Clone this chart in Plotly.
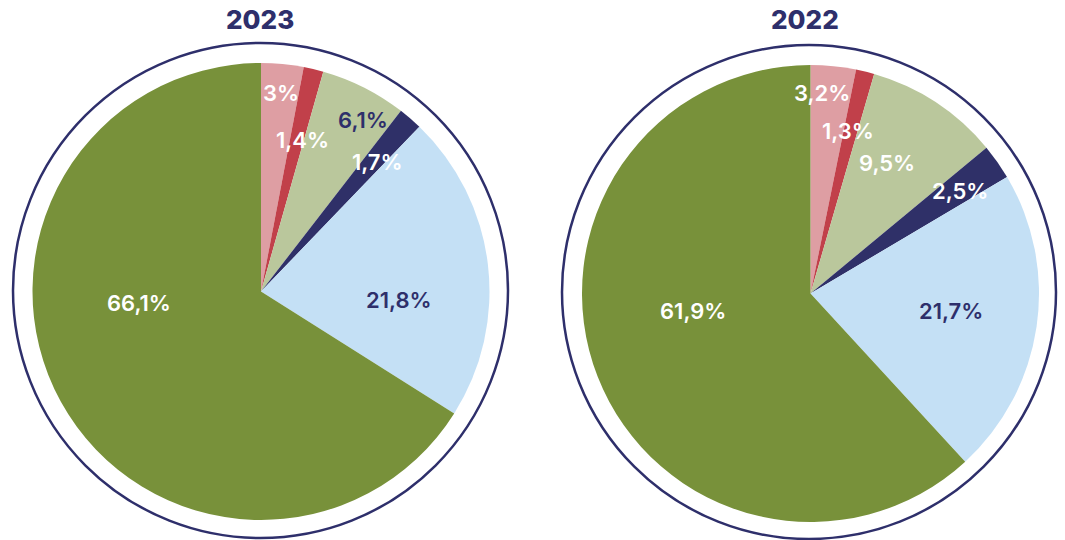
import plotly.graph_objects as go

# ---- data ----
categories = ["Cat A", "Cat B", "Cat C", "Cat D", "Cat E", "Cat F"]
values_2023 = [3.0, 1.4, 6.1, 1.7, 21.8, 66.1]
values_2022 = [3.2, 1.3, 9.5, 2.5, 21.7, 61.9]
labels_2023 = ["3%", "1,4%", "6,1%", "1,7%", "21,8%", "66,1%"]
labels_2022 = ["3,2%", "1,3%", "9,5%", "2,5%", "21,7%", "61,9%"]
years = ["2023", "2022"]

# ---- styles ----
colors = ["#DE9EA3", "#C1404A", "#BAC79C", "#2F3068", "#C4E0F5", "#78913A"]
navy = "#2E2F6B"
white = "#FFFFFF"
text_colors_2023 = [white, white, navy, white, navy, white]
text_colors_2022 = [white, white, white, white, navy, white]
FONT = "Inter"

W, H = 1065, 540

def px_x(x):
    return x / W

def px_y(y):
    return 1 - y / H

# label placements (pixel centres)
label_pos_2023 = [(281, 93), (302, 140), (363, 120), (377, 162), (399, 300), (139, 303)]
label_pos_2022 = [(822, 93), (848, 131), (887, 163), (960, 191), (951, 311), (693, 311)]

fig = go.Figure()

pies = [
    (values_2023, (32, 490), (63, 520)),
    (values_2022, (582, 1039), (65, 522)),
]
for vals, (xa, xb), (ya, yb) in pies:
    fig.add_trace(go.Pie(
        labels=categories,
        values=vals,
        sort=False,
        direction="clockwise",
        rotation=0,
        marker=dict(colors=colors, line=dict(width=0)),
        textinfo="none",
        hoverinfo="label+value",
        showlegend=False,
        domain=dict(x=[px_x(xa), px_x(xb)], y=[px_y(yb), px_y(ya)]),
    ))

annotations = []
for labs, poss, tcols in [(labels_2023, label_pos_2023, text_colors_2023),
                          (labels_2022, label_pos_2022, text_colors_2022)]:
    for lab, (x, y), c in zip(labs, poss, tcols):
        annotations.append(dict(
            x=px_x(x), y=px_y(y), xref="paper", yref="paper",
            text=lab, showarrow=False, xanchor="center", yanchor="middle",
            font=dict(family=FONT, size=22, color=c, weight=600),
        ))

for yr, x in zip(years, [260, 805]):
    annotations.append(dict(
        x=px_x(x), y=px_y(20), xref="paper", yref="paper",
        text=yr, showarrow=False, xanchor="center", yanchor="middle",
        font=dict(family=FONT, size=26, color=navy, weight=800),
    ))

shapes = []
for (x0, x1, y0, y1) in [(13, 508, 43, 538), (562, 1056, 45, 539)]:
    shapes.append(dict(
        type="circle", xref="paper", yref="paper",
        x0=px_x(x0), x1=px_x(x1), y0=px_y(y1), y1=px_y(y0),
        line=dict(color=navy, width=2.5),
        fillcolor="rgba(0,0,0,0)", layer="below",
    ))

fig.update_layout(
    width=W, height=H,
    margin=dict(l=0, r=0, t=0, b=0),
    paper_bgcolor="white", plot_bgcolor="white",
    annotations=annotations,
    shapes=shapes,
    font=dict(family=FONT),
)

fig.write_html(
    "out.html",
    config={"displayModeBar": False},
    post_script="document.body.style.margin='0';document.body.style.overflow='hidden';",
)
